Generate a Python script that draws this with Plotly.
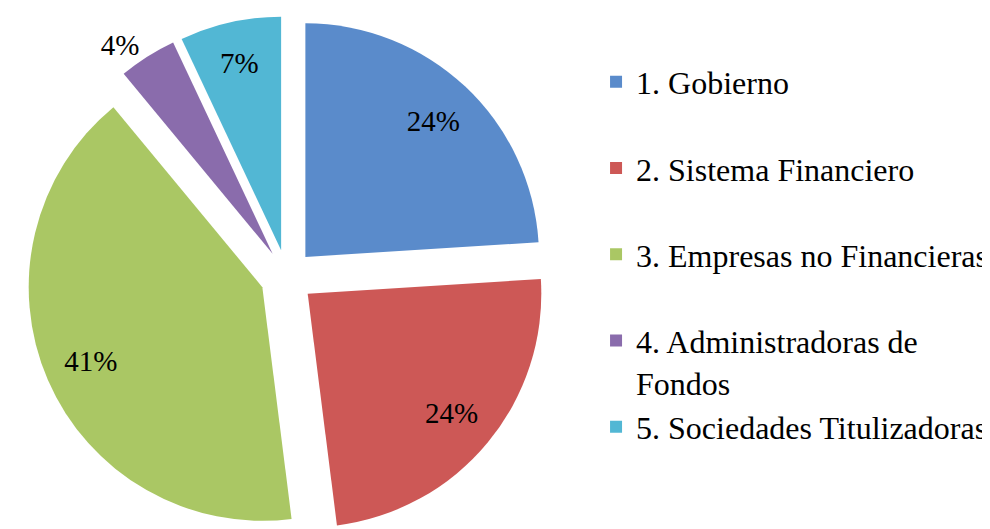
import plotly.graph_objects as go

# sectors and their share
categories = [
    "1. Gobierno<br> ",
    "2. Sistema Financiero<br> ",
    "3. Empresas no Financieras<br> ",
    "4. Administradoras de<br>Fondos",
    "5. Sociedades Titulizadoras",
]
shares = [24, 24, 41, 4, 7]

colors = ['#5A8BCB', '#CD5856', '#AAC764', '#8A6CAC', '#52B7D4']
text_pos = ['inside', 'inside', 'inside', 'outside', 'inside']

SERIF = 'Liberation Serif, Times New Roman, serif'
pie_domain = dict(x=[0, 0.5636], y=[0, 1])
pull = [0.115] * 5

fig = go.Figure()

# coloured slices
fig.add_trace(go.Pie(
    labels=categories,
    values=shares,
    sort=False,
    direction='clockwise',
    rotation=0,
    pull=pull,
    marker=dict(colors=colors, line=dict(width=0)),
    textinfo='none',
    automargin=False,
    domain=pie_domain,
))

# transparent ring on top, only to push the percent labels outward
fig.add_trace(go.Pie(
    labels=categories,
    values=shares,
    sort=False,
    direction='clockwise',
    rotation=0,
    pull=pull,
    hole=0.6,
    marker=dict(colors=['rgba(0,0,0,0)'] * 5, line=dict(width=0)),
    texttemplate='%{percent:.0%}',
    textposition=text_pos,
    insidetextorientation='horizontal',
    automargin=False,  # keep the outside 4% from shrinking the pie
    textfont=dict(family=SERIF, size=29, color='black'),
    showlegend=False,
    hoverinfo='skip',
    domain=pie_domain,
))

fig.update_layout(
    width=990,
    height=529,
    margin=dict(l=0, r=0, t=8, b=0),
    paper_bgcolor='white',
    font=dict(family=SERIF, color='black'),
    legend=dict(
        x=0.995, y=0.926,
        xanchor='right', yanchor='top',
        valign='top',
        font=dict(family=SERIF, size=32, color='black'),
        bgcolor='rgba(0,0,0,0)',
    ),
)

fig.write_html("out.html")
